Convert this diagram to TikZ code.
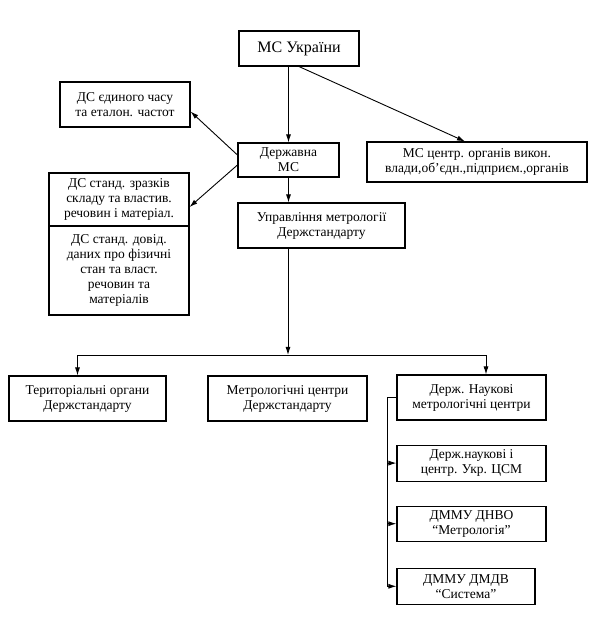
\documentclass[tikz,border=0pt]{standalone}
\usepackage{fontspec}
\setmainfont{Liberation Serif}
\usetikzlibrary{positioning,arrows.meta}

\begin{document}
\begin{tikzpicture}[
    x=1pt, y=1pt,
    node distance=24pt,
    align=center,
    font=\fontsize{13.5}{15}\selectfont,
    org/.style={rectangle, draw=black, line width=1.1pt, inner sep=2pt,
      minimum height=45pt},
    dep/.style={black, line width=0.9pt},
    >={Latex[length=8pt,width=5pt]}
  ]
  \useasboundingbox (0,0) rectangle (602,624);

  % layout the upper nodes

  \node (ukr)     [org, minimum width=120pt, minimum height=35pt,
                   font=\fontsize{16}{18}\selectfont] at (299,575.5) {МС України};
  \node (dms)     [org, minimum width=101pt, minimum height=34pt] at (288.5,464)
                                                    {Державна\\ МС};
  \node (mscentr) [org, minimum width=220pt, minimum height=40pt] at (477,462)
                                                    {МС центр. органів викон.\\
                                                     влади,об’єдн.,підприєм.,органів};
  \node (time)    [org, minimum width=130pt] at (125,519.5)
                                                    {ДС єдиного часу\\ та еталон. частот};
  \node (upr)     [org, minimum width=167pt] at (321.5,398.5)
                                                    {Управління метрології\\ Держстандарту};

  % the two standard services stacked on the left

  \node (zrazk)   [org, minimum width=140pt, minimum height=53pt] at (119,424.5)
                                                    {ДС станд. зразків\\
                                                     складу та властив.\\
                                                     речовин і матеріал.};
  \node (dovid)   [org, minimum width=140pt, minimum height=89pt, below=-1.1pt of zrazk]
                                                    {ДС станд. довід.\\
                                                     даних про фізичні\\
                                                     стан та власт.\\
                                                     речовин та\\
                                                     матеріалів};

  % the lower row

  \node (terr)    [org, minimum width=157pt] at (87.5,225.5)
                                                    {Територіальні органи\\ Держстандарту};
  \node (metr)    [org, minimum width=159pt] at (287.5,225.5)
                                                    {Метрологічні центри\\ Держстандарту};
  \node (dnmc)    [org, minimum width=149pt] at (471.5,226.5)
                                                    {Держ. Наукові\\ метрологічні центри};

  \node (ukrcsm)  [org, minimum width=149pt, minimum height=36pt, below=of dnmc]
                                                    {Держ.наукові і\\ центр. Укр. ЦСМ};
  \node (dnvo)    [org, minimum width=149pt, minimum height=35pt, below=of ukrcsm]
                                                    {ДММУ ДНВО\\ “Метрологія”};
  \node (dmdv)    [org, minimum width=138pt, minimum height=36pt,
                   below=26pt of dnvo.south west, anchor=north west]
                                                    {ДММУ ДМДВ\\ “Система”};

  % connectors

  \draw[->,dep] (ukr.south -| dms.north) -- (dms.north);
  \draw[->,dep] (ukr.south) -- ([xshift=-12pt]mscentr.north);

  \draw[->,dep] ([yshift=5pt]dms.west)  -- ([yshift=-7pt]time.east);
  \draw[->,dep] ([yshift=-5pt]dms.west) -- ([yshift=-7.5pt]zrazk.east);
  \draw[->,dep] (dms.south) -- (dms.south |- upr.north);

  \coordinate (hub) at (288,269);
  \draw[->,dep] (upr.south -| hub) -- (hub);
  \draw[->,dep] (hub) -| ([xshift=-10pt]terr.north);
  \draw[->,dep] (hub) -| ([xshift=14.5pt]dnmc.north);

  \coordinate (rail) at (387,0);
  \draw[dep] (dnmc.west) -- (dnmc.west -| rail) -- (dmdv.west -| rail);
  \foreach \n in {ukrcsm,dnvo,dmdv}
    \draw[->,dep] (\n.west -| rail) -- (\n.west);

\end{tikzpicture}
\end{document}
